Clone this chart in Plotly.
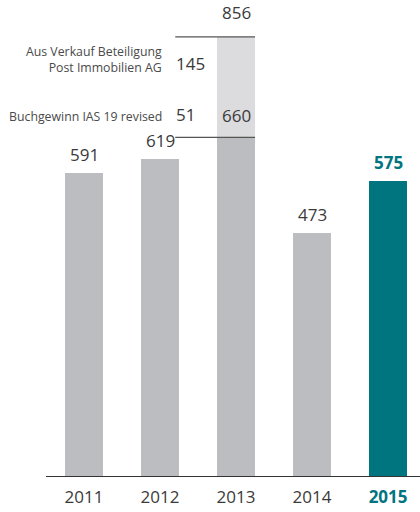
import plotly.graph_objs as go

# Data
years = ['2011', '2012', '2013', '2014', '2015']
base_values = [591, 619, 660, 473, 575]
special_2013 = [None, None, 196, None, None]   # 145 + 51 on top of 660
total_2013 = 856
special_labels = ['Aus Verkauf Beteiligung<br>Post Immobilien AG', 'Buchgewinn IAS 19 revised']
special_values = [145, 51]

gray = '#BCBDC1'
light = '#DCDCDE'
teal = '#00757F'
text_col = '#3A3A3A'
font = 'Open Sans'

bar_colors = [gray, gray, gray, gray, teal]

fig = go.Figure()

fig.add_trace(go.Bar(x=years, y=base_values,
                     marker={'color': bar_colors, 'line': {'width': 0}},
                     width=0.5, hoverinfo='skip'))
fig.add_trace(go.Bar(x=years, y=special_2013,
                     marker={'color': light, 'line': {'width': 0}},
                     width=0.5, hoverinfo='skip'))

annotations = []
# value labels above bars
for i, (yr, val) in enumerate(zip(years, base_values)):
    if yr == '2013':
        continue
    last = yr == '2015'
    annotations.append(dict(x=i, y=val, text=f'<b>{val}</b>' if last else str(val),
                            showarrow=False, yanchor='bottom', yshift=5,
                            font={'size': 17, 'color': teal if last else text_col}))

# 2013 stacked labels
annotations.append(dict(x=2, y=total_2013, text=str(total_2013), showarrow=False,
                        yanchor='bottom', yshift=11,
                        font={'size': 17, 'color': text_col}))
annotations.append(dict(x=2, y=base_values[2], text=str(base_values[2]), showarrow=False,
                        yanchor='bottom', yshift=8,
                        font={'size': 17, 'color': text_col}))

# left side explanations
annotations.append(dict(x=1.18, y=base_values[2] + special_2013[2] * 0.74, text=str(special_values[0]),
                        xanchor='left', showarrow=False,
                        font={'size': 17, 'color': text_col}))
annotations.append(dict(x=1.18, y=base_values[2], text=str(special_values[1]),
                        xanchor='left', yanchor='bottom', yshift=9, showarrow=False,
                        font={'size': 17, 'color': text_col}))
annotations.append(dict(x=1.05, y=base_values[2] + special_2013[2] * 0.78, text=special_labels[0],
                        xanchor='right', align='right', showarrow=False,
                        font={'size': 12.3, 'color': '#4A4A4A'}))
annotations.append(dict(x=1.05, y=base_values[2], text=special_labels[1],
                        xanchor='right', yanchor='bottom', yshift=10, showarrow=False,
                        font={'size': 12.3, 'color': '#4A4A4A'}))

shapes = [
    dict(type='line', xref='x', yref='y', x0=1.2, x1=2.25, y0=total_2013, y1=total_2013,
         line={'color': '#555555', 'width': 1.2}),
    dict(type='line', xref='x', yref='y', x0=1.2, x1=2.25, y0=base_values[2], y1=base_values[2],
         line={'color': '#555555', 'width': 1.2}),
]

ticktext = [y if y != '2015' else f'<b><span style="color:{teal}">{y}</span></b>' for y in years]

fig.layout.update(
    barmode='stack',
    width=420, height=512,
    margin={'l': 46, 'r': 0, 't': 0, 'b': 36},
    plot_bgcolor='rgba(0,0,0,0)',
    paper_bgcolor='white',
    showlegend=False,
    font={'family': font, 'color': text_col},
    xaxis={'type': 'category', 'range': [-0.5, 4.42], 'showgrid': False, 'zeroline': False,
           'showline': True, 'linecolor': '#333333', 'linewidth': 1.2,
           'tickvals': years, 'ticktext': ticktext, 'ticks': '', 'ticklabelstandoff': 5,
           'tickfont': {'size': 17, 'color': text_col}, 'fixedrange': True},
    yaxis={'range': [0, 928], 'visible': False, 'fixedrange': True},
    annotations=annotations,
    shapes=shapes,
)

fig.write_html('out.html', config={'displayModeBar': False},
               post_script="document.body.style.margin='0';")
